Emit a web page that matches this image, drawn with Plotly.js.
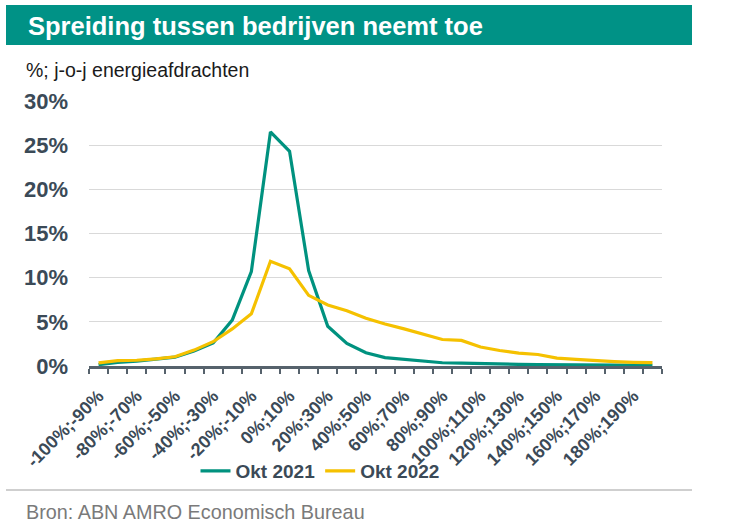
<!DOCTYPE html>
<html>
<head>
<meta charset="utf-8">
<script src="https://cdn.plot.ly/plotly-3.0.1.min.js"></script>
<style>
  html, body { margin: 0; padding: 0; background: #ffffff; }
  #chart { width: 732px; height: 530px; }
</style>
</head>
<body>
<div id="chart"></div>
<script>
// ---- Data ----
const categories = ["-100%;-90%","-90%;-80%","-80%;-70%","-70%;-60%","-60%;-50%","-50%;-40%","-40%;-30%","-30%;-20%","-20%;-10%","-10%;0%","0%;10%","10%;20%","20%;30%","30%;40%","40%;50%","50%;60%","60%;70%","70%;80%","80%;90%","90%;100%","100%;110%","110%;120%","120%;130%","130%;140%","140%;150%","150%;160%","160%;170%","170%;180%","180%;190%","190%;200%"];
const tickLabels = ["-100%;-90%","","-80%;-70%","","-60%;-50%","","-40%;-30%","","-20%;-10%","","0%;10%","","20%;30%","","40%;50%","","60%;70%","","80%;90%","","100%;110%","","120%;130%","","140%;150%","","160%;170%","","180%;190%",""];
const okt2021 = [0.15,0.4,0.55,0.8,1.0,1.7,2.6,5.2,10.7,26.5,24.3,10.8,4.5,2.55,1.5,0.95,0.75,0.55,0.37,0.33,0.25,0.2,0.18,0.15,0.12,0.1,0.1,0.08,0.07,0.06];
const okt2022 = [0.35,0.6,0.65,0.8,1.05,1.8,2.75,4.2,5.9,11.85,11.0,8.0,6.9,6.25,5.4,4.75,4.2,3.6,3.0,2.9,2.15,1.75,1.45,1.3,0.9,0.75,0.6,0.5,0.42,0.38];
const seriesNames = ["Okt 2021", "Okt 2022"];
const yTicks = [0, 5, 10, 15, 20, 25, 30];
const yTickLabels = ["0%", "5%", "10%", "15%", "20%", "25%", "30%"];

// ---- Layout geometry (pixels) ----
const W = 732, H = 530;
const L = 89, R = 662, T = 101, B = 366;
const pw = R - L, ph = B - T;
const px = x => (x - L) / pw;
const py = y => (B - y) / ph;

const FONT = "Liberation Sans, Arial, sans-serif";
const TXT = "#3b4a57";

const traces = [
  { x: categories, y: okt2021, name: seriesNames[0], type: "scatter", mode: "lines",
    line: { color: "#00927f", width: 3.2 }, hoverinfo: "skip" },
  { x: categories, y: okt2022, name: seriesNames[1], type: "scatter", mode: "lines",
    line: { color: "#f5c100", width: 3.2 }, hoverinfo: "skip" }
];

const layout = {
  width: W, height: H,
  margin: { l: L, r: W - R, t: T, b: H - B, pad: 0 },
  paper_bgcolor: "#ffffff", plot_bgcolor: "#ffffff",
  font: { family: FONT, color: TXT },
  showlegend: true,
  legend: {
    orientation: "h", x: px(320), xanchor: "center", y: py(471), yanchor: "middle",
    font: { family: FONT, size: 19, color: TXT, weight: "bold" },
    bgcolor: "rgba(0,0,0,0)", itemwidth: 30, tracegroupgap: 0
  },
  xaxis: {
    type: "category", range: [-0.5, categories.length - 0.5],
    tickmode: "array", tickvals: categories, ticktext: tickLabels,
    tickson: "boundaries", ticks: "outside", ticklen: 5, tickwidth: 2, tickcolor: "#56626c",
    showline: true, linecolor: "#56626c", linewidth: 2.5,
    showgrid: false, zeroline: false, tickangle: -45, ticklabelstandoff: 10,
    tickfont: { family: FONT, size: 18, color: TXT, weight: "bold" },
    fixedrange: true
  },
  yaxis: {
    range: [0, 30], tickmode: "array", tickvals: yTicks, ticktext: yTickLabels,
    showgrid: true, gridcolor: "#d9d9d9", gridwidth: 1.3, zeroline: false,
    showline: false, ticks: "", ticklabelstandoff: 20,
    tickfont: { family: FONT, size: 22, color: TXT, weight: "bold" },
    fixedrange: true
  },
  shapes: [
    { type: "rect", xref: "paper", yref: "paper", x0: px(6), x1: px(692), y0: py(45), y1: py(5),
      fillcolor: "#009286", line: { width: 0 }, layer: "below" },
    { type: "line", xref: "paper", yref: "paper", x0: px(6), x1: px(692), y0: py(490), y1: py(490),
      line: { color: "#bfbfbf", width: 1.5 } }
  ],
  annotations: [
    { text: "Spreiding tussen bedrijven neemt toe", xref: "paper", yref: "paper",
      x: px(26), y: py(26), xanchor: "left", yanchor: "middle", showarrow: false,
      font: { family: FONT, size: 25.5, color: "#ffffff", weight: "bold" } },
    { text: "%; j-o-j energieafdrachten", xref: "paper", yref: "paper",
      x: px(24), y: py(70), xanchor: "left", yanchor: "middle", showarrow: false,
      font: { family: FONT, size: 19.5, color: "#1a1a1a" } },
    { text: "Bron: ABN AMRO Economisch Bureau", xref: "paper", yref: "paper",
      x: px(24), y: py(512), xanchor: "left", yanchor: "middle", showarrow: false,
      font: { family: FONT, size: 19.8, color: "#7a7a7a" } }
  ]
};

Plotly.newPlot("chart", traces, layout, { displayModeBar: false, staticPlot: true });
</script>
</body>
</html>
